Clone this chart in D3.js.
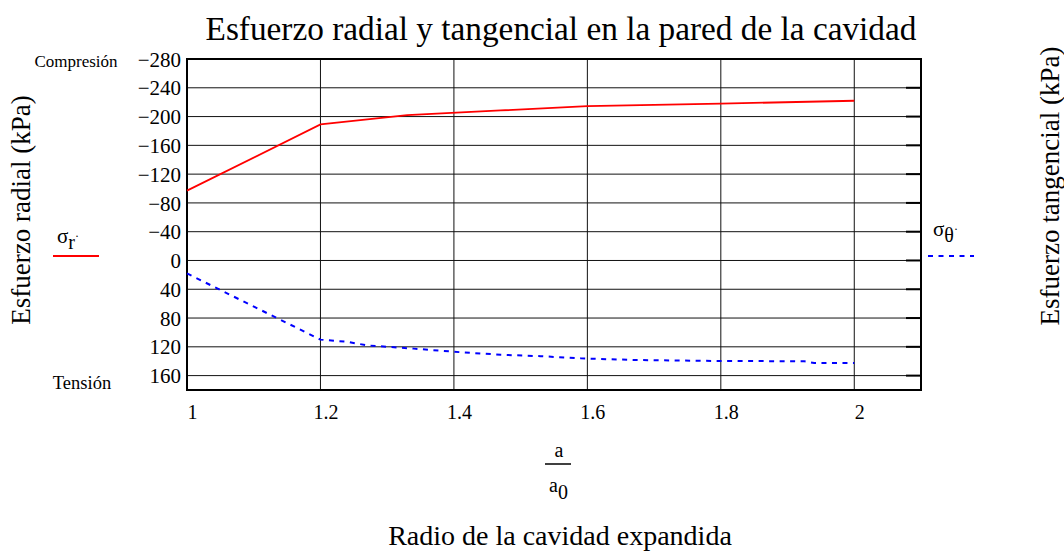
<!DOCTYPE html>
<html>
<head>
<meta charset="utf-8">
<title>Esfuerzo radial y tangencial</title>
<script src="https://cdn.jsdelivr.net/npm/d3@7/dist/d3.min.js"></script>
<style type="text/css">
	body { margin: 0; background: #fff; }
	svg text { font-family: "Liberation Serif", "Times New Roman", serif; fill: #000; }
	.grid line { stroke: #111; stroke-width: 1px; }
	.frame { fill: none; stroke: #000; stroke-width: 2px; }
</style>
</head>
<body>
<script type="text/javascript">

// a/a0 values and stresses (kPa)
var radX = [1, 1.2, 1.33, 1.47, 1.6, 1.8, 2];
var radY = [-97, -189, -202, -208.5, -214.5, -218, -222];
var tanX = [1, 1.2, 1.24, 1.27, 1.34, 1.41, 1.47, 1.53, 1.59, 1.67, 1.8, 1.925, 1.94, 2];
var tanY = [18, 110, 113, 118, 122.5, 127.5, 131, 133, 136, 138.3, 139.7, 140, 142.5, 142.5];
var xTicks = [1, 1.2, 1.4, 1.6, 1.8, 2];
var yTicks = [-280, -240, -200, -160, -120, -80, -40, 0, 40, 80, 120, 160];

var W = 1064, H = 554;
var pL = 187, pR = 921, pT = 59, pB = 390;

var svg = d3.select("body").append("svg").attr("width", W).attr("height", H);

var x = d3.scaleLinear().domain([1, 2.1]).range([pL, pR]);
var y = d3.scaleLinear().domain([-280, 180]).range([pT, pB]);

// grid
var grid = svg.append("g").attr("class", "grid");
grid.selectAll(".h").data(yTicks).enter().append("line")
	.attr("x1", pL).attr("x2", pR)
	.attr("y1", function(d){ return y(d); }).attr("y2", function(d){ return y(d); });
grid.selectAll(".v").data(xTicks.slice(1)).enter().append("line")
	.attr("y1", pT).attr("y2", pB)
	.attr("x1", function(d){ return x(d); }).attr("x2", function(d){ return x(d); });

// right-side inner ticks
svg.append("g").selectAll("line").data(yTicks).enter().append("line")
	.attr("x1", pR - 15).attr("x2", pR)
	.attr("y1", function(d){ return y(d); }).attr("y2", function(d){ return y(d); })
	.attr("stroke", "#000").attr("stroke-width", 2);

// tick labels via d3 axes (no domain path)
var yAxis = svg.append("g").attr("transform", "translate(" + (pL - 6) + ",0)")
	.call(d3.axisLeft(y).tickValues(yTicks).tickSize(0).tickPadding(0));
yAxis.select(".domain").remove();
yAxis.selectAll("text").style("font-family", "Liberation Serif").style("font-size", "21px").attr("dy", "0.34em");

var xAxis = svg.append("g").attr("transform", "translate(5," + (pB + 15) + ")")
	.call(d3.axisBottom(x).tickValues(xTicks).tickSize(0).tickPadding(0).tickFormat(d3.format("")));
xAxis.select(".domain").remove();
xAxis.selectAll("text").style("font-family", "Liberation Serif").style("font-size", "20px");

svg.append("rect").attr("class", "frame")
	.attr("x", pL).attr("y", pT).attr("width", pR - pL).attr("height", pB - pT);

// curves
var line = d3.line().x(function(d){ return x(d[0]); }).y(function(d){ return y(d[1]); });
svg.append("path").datum(d3.zip(radX, radY)).attr("d", line)
	.attr("fill", "none").attr("stroke", "#ff0000").attr("stroke-width", 1.8);
svg.append("path").datum(d3.zip(tanX, tanY)).attr("d", line)
	.attr("fill", "none").attr("stroke", "#0000ff").attr("stroke-width", 2)
	.attr("stroke-dasharray", "5,5.5");

// titles
svg.append("text").attr("x", 561).attr("y", 40).attr("text-anchor", "middle")
	.style("font-size", "33.3px").text("Esfuerzo radial y tangencial en la pared de la cavidad");
svg.append("text").attr("x", 76).attr("y", 67).attr("text-anchor", "middle")
	.style("font-size", "17px").text("Compresión");
svg.append("text").attr("x", 82).attr("y", 389).attr("text-anchor", "middle")
	.style("font-size", "18.5px").text("Tensión");
svg.append("text").attr("transform", "translate(30,210) rotate(-90)").attr("text-anchor", "middle")
	.style("font-size", "27px").text("Esfuerzo radial (kPa)");
svg.append("text").attr("transform", "translate(1059,186) rotate(-90)").attr("text-anchor", "middle")
	.style("font-size", "27px").text("Esfuerzo tangencial (kPa)");
svg.append("text").attr("x", 560).attr("y", 545).attr("text-anchor", "middle")
	.style("font-size", "28px").text("Radio de la cavidad expandida");

// fraction a / a0
svg.append("text").attr("x", 559).attr("y", 457).attr("text-anchor", "middle")
	.style("font-size", "20px").text("a");
svg.append("line").attr("x1", 545).attr("x2", 571).attr("y1", 464).attr("y2", 464)
	.attr("stroke", "#000").attr("stroke-width", 1.5);
var a0 = svg.append("text").attr("x", 549).attr("y", 492).style("font-size", "20px");
a0.append("tspan").text("a");
a0.append("tspan").attr("dy", 7).text("0");

// legends
var sr = svg.append("text").attr("x", 57).attr("y", 243).style("font-size", "21px");
sr.append("tspan").text("σ");
sr.append("tspan").attr("dy", 6).style("font-size", "20px").text("r");
sr.append("tspan").attr("dy", -9).style("font-size", "12px").text("·");
svg.append("line").attr("x1", 53).attr("x2", 99).attr("y1", 256).attr("y2", 256)
	.attr("stroke", "#ff0000").attr("stroke-width", 1.8);

var st = svg.append("text").attr("x", 933).attr("y", 236).style("font-size", "21px");
st.append("tspan").text("σ");
st.append("tspan").attr("dy", 6).style("font-size", "20px").text("θ");
st.append("tspan").attr("dy", -9).style("font-size", "12px").text("·");
svg.append("line").attr("x1", 928).attr("x2", 974).attr("y1", 256).attr("y2", 256)
	.attr("stroke", "#0000ff").attr("stroke-width", 2).attr("stroke-dasharray", "5,5.5");

</script>
</body>
</html>
